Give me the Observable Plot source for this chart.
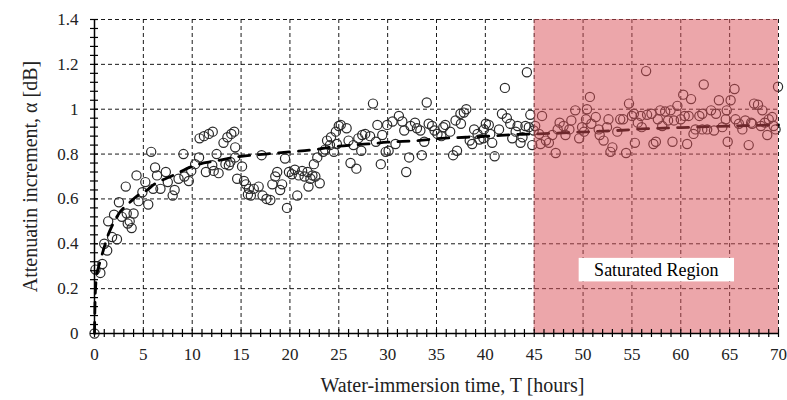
<!DOCTYPE html>
<html><head><meta charset="utf-8">
<script src="https://cdn.jsdelivr.net/npm/d3@7"></script>
<script src="https://cdn.jsdelivr.net/npm/@observablehq/plot@0.6"></script>
<style>
body{margin:0;background:#fff;}
#chart{width:787px;height:400px;}
#chart svg, #chart svg text{font-family:"Liberation Serif","Times New Roman",serif !important;}
</style>
</head><body><div id="chart"></div>
<script>
// Measured points: water-immersion time (hours) and attenuation increment (dB)
const hours = [
0,0.1,0.6,0.8,1.0,1.3,1.4,1.8,2.0,2.3,2.5,2.8,3.2,3.3,3.4,3.6,3.8,4.0,4.3,4.5,4.9,5.2,5.5,5.8,6.0,6.2,6.4,6.75,7.3,7.5,8.0,8.2,8.6,9.1,9.2,9.65,9.9,10.3,10.7,10.75,11.2,11.4,11.7,12.05,12.1,
12.2,12.5,12.7,13.2,13.4,13.6,13.75,13.9,14.0,14.3,14.4,14.4,14.6,15.1,15.3,15.5,15.7,15.8,16.0,16.3,16.8,17.1,17.2,17.6,18.0,18.2,18.5,18.7,19.0,19.2,19.5,19.7,19.9,20.2,20.5,20.75,20.9,21.25,21.5,21.8,21.9,22.1,22.3,22.45,22.6,22.8,23.05,23.4,23.6,23.8,24.1,24.2,24.5,24.7,24.8,25.0,
25.2,25.8,26.0,26.2,26.5,26.8,27.0,27.3,27.4,27.7,28.2,28.5,28.8,28.95,29.3,29.45,29.8,29.95,30.1,30.5,30.8,31.15,31.5,31.7,31.9,32.2,32.35,32.8,33.0,33.35,33.5,33.75,34.0,34.2,34.55,34.8,35.1,35.5,35.7,35.9,36.4,36.7,36.95,37.1,37.45,37.5,37.8,38.05,38.4,38.65,38.85,39.2,39.4,39.8,39.85,40.05,40.35,40.5,40.7,40.95,41.4,41.7,42.0,42.2,42.55,42.75,43.1,43.3,43.6,43.8,44.1,44.25,44.45,44.6,44.8,44.95,
45.1,45.5,45.65,45.8,46.2,46.5,46.85,47.2,47.4,47.6,48.0,48.2,48.6,48.8,49.2,49.6,49.9,50.1,50.3,50.4,50.7,50.85,51.3,51.6,51.7,52.1,52.45,52.6,52.8,53.0,53.5,53.8,54.1,54.4,54.7,55.0,55.2,55.3,55.6,55.9,56.0,56.45,56.55,57.0,57.2,57.45,57.65,57.9,58.1,58.4,58.7,58.95,59.15,59.3,59.65,60.0,60.25,60.4,60.65,60.8,61.05,61.3,61.5,61.9,62.2,62.2,62.35,62.7,63.1,63.4,63.6,63.9,64.25,64.6,64.7,64.8,65.1,65.5,65.6,65.95,66.3,66.6,66.95,67.2,67.3,67.5,67.9,68.2,68.35,68.6,68.85,69.0,69.35,69.5,69.7,69.95
];
const alpha = [
0,0.285,0.27,0.31,0.40,0.37,0.50,0.43,0.53,0.42,0.585,0.52,0.655,0.535,0.49,0.50,0.47,0.535,0.705,0.59,0.63,0.675,0.575,0.81,0.645,0.74,0.705,0.645,0.72,0.675,0.615,0.64,0.69,0.80,0.70,0.68,0.725,0.755,0.785,0.87,0.88,0.72,0.89,0.75,0.90,
0.725,0.80,0.715,0.85,0.755,0.875,0.75,0.765,0.89,0.90,0.83,0.785,0.69,0.745,0.68,0.665,0.62,0.645,0.615,0.645,0.655,0.795,0.615,0.60,0.595,0.665,0.70,0.72,0.64,0.665,0.78,0.56,0.72,0.71,0.73,0.615,0.705,0.725,0.70,0.72,0.655,0.69,0.705,0.755,0.70,0.785,0.67,0.81,0.82,0.86,0.84,0.875,0.81,0.90,0.845,0.925,
0.93,0.915,0.86,0.76,0.84,0.735,0.87,0.815,0.885,0.89,0.88,1.025,0.855,0.93,0.755,0.885,0.81,0.93,0.815,0.945,0.845,0.97,0.945,0.905,0.72,0.785,0.925,0.94,0.915,0.905,0.795,0.855,1.03,0.935,0.925,0.905,0.89,0.88,0.92,0.93,0.90,0.795,0.95,0.815,0.98,0.935,0.985,1.0,0.86,0.845,0.91,0.89,0.865,0.87,0.91,0.935,0.93,0.89,0.85,0.79,0.91,0.98,1.095,0.96,0.935,0.87,0.90,0.925,0.85,0.875,0.925,1.165,0.92,0.975,0.84,0.905,
0.925,0.89,0.845,0.97,0.86,0.85,0.885,0.805,0.91,0.94,0.925,0.885,0.91,0.95,0.995,0.87,0.92,0.90,0.955,1.0,1.055,0.935,0.965,0.91,0.885,0.86,0.92,0.955,0.81,0.83,0.90,0.955,0.955,0.805,1.025,0.97,0.98,0.85,0.94,0.97,0.92,1.17,0.975,0.98,0.845,0.855,0.955,0.995,0.925,0.99,0.95,0.995,0.855,0.95,1.015,0.955,1.065,0.97,0.845,0.97,1.045,0.89,0.91,0.97,0.91,0.98,1.11,0.91,0.995,0.905,0.98,1.04,0.92,0.955,0.995,0.855,1.04,1.09,0.955,0.935,0.91,0.95,0.84,0.94,0.935,1.025,1.02,0.925,0.995,0.94,0.885,0.955,0.965,0.925,0.91,1.10
];
// Fitted trend (dashed curve)
const fitHours = [0,0.05,0.15,0.3,0.6,1.0,1.4,1.8,2.5,3.5,4.4,5.4,6.1,7.8,8.5,10.3,12.5,15,17.5,20,22.5,25,28,30,33,35.5,38,40.5,43,45.5,48,51,53.5,56,60,65,70];
const fitAlpha = [0,0.13,0.23,0.275,0.325,0.385,0.44,0.48,0.535,0.58,0.615,0.64,0.665,0.70,0.715,0.75,0.77,0.79,0.80,0.81,0.82,0.835,0.845,0.853,0.86,0.87,0.875,0.88,0.887,0.89,0.895,0.90,0.905,0.912,0.918,0.925,0.93];
// Axis ticks
const xTickValues = [0,5,10,15,20,25,30,35,40,45,50,55,60,65,70];
const yTickValues = [0,0.2,0.4,0.6,0.8,1.0,1.2,1.4];
const yTickLabels = ["0","0.2","0.4","0.6","0.8","1","1.2","1.4"];
const xMinor = d3.range(0, 71, 1);
const yMinor = d3.range(0, 1.401, 0.04);
// Saturated region and its label
const regionStart = [45];
const regionEnd = [70];
const labelText = ["Saturated Region"];
const labelX1 = [49.6], labelX2 = [65.5], labelY1 = [0.23], labelY2 = [0.335], labelXc = [57.5], labelYc = [0.282];

const SERIF = "Liberation Serif";
const pts = hours.map((h, i) => ({h, a: alpha[i]}));
const fit = fitHours.map((h, i) => ({h, a: fitAlpha[i]}));

const chart = Plot.plot({
  width: 787, height: 400,
  marginLeft: 94, marginRight: 9, marginTop: 19, marginBottom: 67,
  style: {fontFamily: SERIF, fontSize: "17px", color: "#222", background: "white"},
  x: {domain: [0, 70]},
  y: {domain: [0, 1.4]},
  marks: [
    Plot.gridX(xTickValues, {stroke: "#000", strokeOpacity: 0.9, strokeWidth: 1, strokeDasharray: "4,3"}),
    Plot.gridY(yTickValues, {stroke: "#000", strokeOpacity: 0.9, strokeWidth: 1, strokeDasharray: "4,3"}),
    Plot.dot(pts, {x: "h", y: "a", r: 4.6, stroke: "#2a2a2a", strokeWidth: 1.2, fill: "none"}),
    Plot.line(fit, {x: "h", y: "a", stroke: "#000", strokeWidth: 2.8, strokeDasharray: "11,9", curve: "monotone-x"}),
    Plot.rect(regionStart, {x1: (d) => d, x2: (d, i) => regionEnd[i], y1: 0, y2: 1.4, fill: "#d94d55", fillOpacity: 0.5}),
    Plot.rect(labelText, {x1: (d, i) => labelX1[i], x2: (d, i) => labelX2[i], y1: (d, i) => labelY1[i], y2: (d, i) => labelY2[i], fill: "white"}),
    Plot.text(labelText, {x: (d, i) => labelXc[i], y: (d, i) => labelYc[i], text: (d) => d, fontSize: 18, fontFamily: SERIF, fill: "#000"}),
    Plot.ruleX([0], {stroke: "#000", strokeWidth: 1.5}),
    Plot.ruleY([0], {stroke: "#000", strokeWidth: 1.5}),
    Plot.ruleX(xMinor, {x: (d) => d, y1: 0, y2: 0, insetTop: -4, insetBottom: -4, stroke: "#000", strokeWidth: 1.2}),
    Plot.ruleY(yMinor, {y: (d) => d, x1: 0, x2: 0, insetLeft: -4, insetRight: -4, stroke: "#000", strokeWidth: 1.2}),
    Plot.axisX({ticks: xTickValues, tickSize: 0, tickPadding: 14, label: null, fill: "#222", fontFamily: SERIF}),
    Plot.axisY({ticks: yTickValues, tickSize: 0, tickPadding: 16, label: null, tickFormat: (d) => yTickLabels[yTickValues.indexOf(d)], fill: "#222", fontFamily: SERIF}),
    Plot.text(["Water-immersion time, T [hours]"], {frameAnchor: "bottom", dy: 52, dx: 16, text: (d) => d, fontSize: 20, fontFamily: SERIF, textAnchor: "middle", lineAnchor: "middle", fill: "#222"}),
    Plot.text(["Attenuatin increment, α [dB]"], {frameAnchor: "left", dx: -64, text: (d) => d, rotate: -90, fontSize: 20, fontFamily: SERIF, textAnchor: "middle", lineAnchor: "middle", fill: "#222"})
  ]
});
document.getElementById("chart").appendChild(chart);
</script>
</body></html>
